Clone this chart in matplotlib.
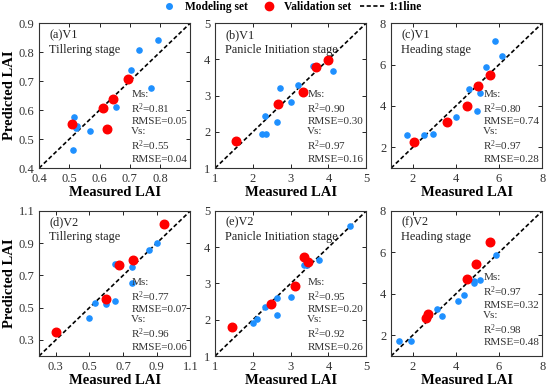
import matplotlib.pyplot as plt
from matplotlib.lines import Line2D

plt.rcParams['font.family'] = ['Liberation Serif', 'DejaVu Serif']
plt.rcParams['mathtext.fontset'] = 'stix'

titles = ['(a)V1\nTillering stage', '(b)V1\nPanicle Initiation stage', '(c)V1\nHeading stage',
          '(d)V2\nTillering stage', '(e)V2\nPanicle Initiation stage', '(f)V2\nHeading stage']

# modeling set (measured, predicted)
ms_x = [
    [0.793, 0.729, 0.705, 0.769, 0.654, 0.516, 0.527, 0.522, 0.570, 0.511],
    [3.60, 4.11, 2.72, 3.20, 3.00, 2.31, 2.64, 2.23, 2.36],
    [5.83, 6.14, 5.39, 4.61, 5.13, 4.00, 4.99, 1.75, 2.54, 2.94],
    [0.900, 0.855, 0.752, 0.653, 0.754, 0.535, 0.600, 0.649, 0.495],
    [4.56, 3.75, 3.36, 3.44, 2.64, 3.02, 2.31, 2.63, 2.11, 2.01],
    [5.86, 5.11, 4.83, 4.84, 4.36, 4.08, 3.14, 3.38, 1.92, 1.36],
]
ms_y = [
    [0.840, 0.806, 0.739, 0.677, 0.610, 0.575, 0.546, 0.540, 0.529, 0.462],
    [3.81, 3.67, 3.22, 3.30, 2.83, 2.45, 2.26, 1.93, 1.93],
    [7.12, 6.43, 5.87, 4.80, 4.64, 3.47, 3.74, 2.58, 2.58, 2.67],
    [0.901, 0.859, 0.752, 0.769, 0.654, 0.530, 0.524, 0.541, 0.434],
    [4.59, 3.64, 3.50, 3.52, 2.60, 2.62, 2.36, 2.12, 2.01, 1.92],
    [5.86, 4.68, 4.62, 4.52, 3.93, 3.64, 3.28, 2.93, 1.72, 1.70],
]
# validation set (measured, predicted)
vs_x = [
    [0.693, 0.645, 0.613, 0.509, 0.624],
    [3.98, 3.67, 3.32, 2.67, 1.56],
    [5.59, 5.02, 4.52, 3.57, 2.05],
    [0.946, 0.757, 0.676, 0.600, 0.298],
    [3.35, 3.46, 3.11, 2.48, 1.44],
    [5.58, 4.95, 4.52, 2.70, 2.64],
]
vs_y = [
    [0.708, 0.639, 0.607, 0.552, 0.534],
    [3.99, 3.79, 3.09, 2.77, 1.74],
    [5.47, 4.98, 4.02, 3.23, 2.24],
    [1.016, 0.796, 0.767, 0.551, 0.348],
    [3.74, 3.60, 2.94, 2.43, 1.79],
    [6.50, 5.45, 4.72, 3.02, 2.82],
]

ms_r2 = ['0.81', '0.90', '0.80', '0.77', '0.95', '0.97']
ms_rmse = ['0.05', '0.30', '0.74', '0.07', '0.20', '0.32']
vs_r2 = ['0.55', '0.97', '0.97', '0.96', '0.92', '0.98']
vs_rmse = ['0.04', '0.16', '0.28', '0.06', '0.26', '0.48']

limits = [(0.4, 0.9), (1, 5), (1, 8), (0.2, 1.1), (1, 5), (1, 8)]
ticks = [[0.4, 0.5, 0.6, 0.7, 0.8, 0.9], [1, 2, 3, 4, 5], [2, 4, 6, 8],
         [0.3, 0.5, 0.7, 0.9, 1.1], [1, 2, 3, 4, 5], [2, 4, 6, 8]]
xticklabels = [['0.4', '0.5', '0.6', '0.7', '0.8', ''], None, None,
               ['0.3', '0.5', '0.7', '0.9', '1.1'], None, None]

fig = plt.figure(figsize=(5.5, 3.91), dpi=100)
lefts = [0.071, 0.391, 0.711]
bottoms = [0.570, 0.0895]
w, h = 0.275, 0.371
one_one = (0, (2.5, 1.5))

for i in range(6):
    ax = fig.add_axes([lefts[i % 3], bottoms[i // 3], w, h])
    lo, hi = limits[i]
    ax.plot([lo, hi], [lo, hi], color='black', linestyle=one_one, linewidth=1.2, zorder=1)
    ax.scatter(ms_x[i], ms_y[i], s=14, color='#1E90FF', zorder=2)
    ax.scatter(vs_x[i], vs_y[i], s=38, color='red', zorder=3)
    ax.set_xlim(lo, hi)
    ax.set_ylim(lo, hi)
    ax.set_xticks(ticks[i])
    ax.set_yticks(ticks[i])
    if xticklabels[i] is not None:
        ax.set_xticklabels(xticklabels[i])
    ax.tick_params(direction='in', top=True, right=True, labelsize=9,
                   labelcolor='#333333', length=3, width=0.6)
    for sp in ax.spines.values():
        sp.set_linewidth(0.8)
        sp.set_color('#333333')
    ax.set_xlabel('Measured LAI', fontsize=10.5, fontweight='bold', labelpad=1)
    if i % 3 == 0:
        ax.set_ylabel('Predicted LAI', fontsize=10.5, fontweight='bold', labelpad=2)
    ax.text(0.066, 0.96, titles[i], transform=ax.transAxes, fontsize=8.8,
            va='top', ha='left', color='#222222', linespacing=1.3)
    txt = ('Ms:\n$\\mathregular{R^2}$=' + ms_r2[i] + '\nRMSE=' + ms_rmse[i] +
           '\nVs:\n$\\mathregular{R^2}$=' + vs_r2[i] + '\nRMSE=' + vs_rmse[i])
    ax.text(0.61, 0.03 if i != 5 else 0.06, txt, transform=ax.transAxes, fontsize=8,
            va='bottom', ha='left', color='#333333', linespacing=1.2)

handles = [Line2D([], [], marker='o', linestyle='none', color='#1E90FF', markersize=4),
           Line2D([], [], marker='o', linestyle='none', color='red', markersize=6),
           Line2D([], [], color='black', linestyle=one_one, linewidth=1.2)]
fig.legend(handles, ['Modeling set', 'Validation set', '1:1line'], loc='center',
           bbox_to_anchor=(0.525, 0.982), ncol=3, frameon=False,
           prop={'weight': 'bold', 'size': 8.3}, columnspacing=0.7, handlelength=2.3,
           handletextpad=0.2, borderpad=0)

fig.savefig('out.png', dpi=100)
